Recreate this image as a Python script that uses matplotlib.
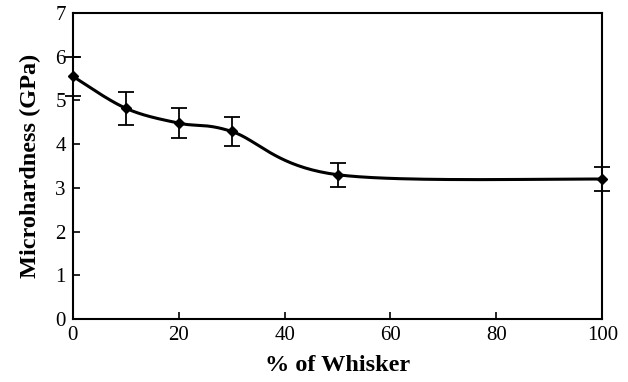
import numpy as np
import matplotlib.pyplot as plt

whisker = [0, 10, 20, 30, 50, 100]
hardness = [5.55, 4.82, 4.48, 4.29, 3.30, 3.20]
err = [0.45, 0.38, 0.35, 0.33, 0.27, 0.27]


def smooth(x, y, n=40):
    # excel-like bezier smoothing through the points
    x = np.asarray(x, float)
    y = np.asarray(y, float)
    px = np.concatenate([[x[0]], x, [x[-1]]])
    py = np.concatenate([[y[0]], y, [y[-1]]])
    xs, ys = [], []
    for i in range(len(x) - 1):
        p0 = np.array([x[i], y[i]])
        p3 = np.array([x[i + 1], y[i + 1]])
        p1 = p0 + (np.array([px[i + 2], py[i + 2]]) - np.array([px[i], py[i]])) / 6
        p2 = p3 - (np.array([px[i + 3], py[i + 3]]) - np.array([px[i + 1], py[i + 1]])) / 6
        t = np.linspace(0, 1, n)[:, None]
        b = (1 - t) ** 3 * p0 + 3 * (1 - t) ** 2 * t * p1 + 3 * (1 - t) * t ** 2 * p2 + t ** 3 * p3
        xs.extend(b[:, 0])
        ys.extend(b[:, 1])
    return xs, ys


plt.rcParams['font.family'] = ['Liberation Serif']

fig = plt.figure(figsize=(6.28, 3.82), dpi=100)
ax = fig.add_axes([0.116, 0.165, 0.843, 0.801])

sx, sy = smooth(whisker, hardness)
ax.plot(sx, sy, color='black', lw=2.2, clip_on=False, zorder=3)
ax.errorbar(whisker, hardness, yerr=err, fmt='D', color='black', ms=5,
            ecolor='black', elinewidth=1.3, capsize=6, capthick=1.3,
            clip_on=False, zorder=4)

ax.set_xlim(0, 100)
ax.set_ylim(0, 7)
ax.set_xticks([0, 20, 40, 60, 80, 100])
ax.set_yticks(range(8))
ax.tick_params(direction='in', length=5, width=1.2, labelsize=15, pad=5)
for s in ax.spines.values():
    s.set_linewidth(1.5)

ax.set_xlabel('% of Whisker', fontsize=17.5, fontweight='bold', labelpad=7)
ax.set_ylabel('Microhardness (GPa)', fontsize=17.5, fontweight='bold', labelpad=10)

fig.savefig('out.png', dpi=100)
